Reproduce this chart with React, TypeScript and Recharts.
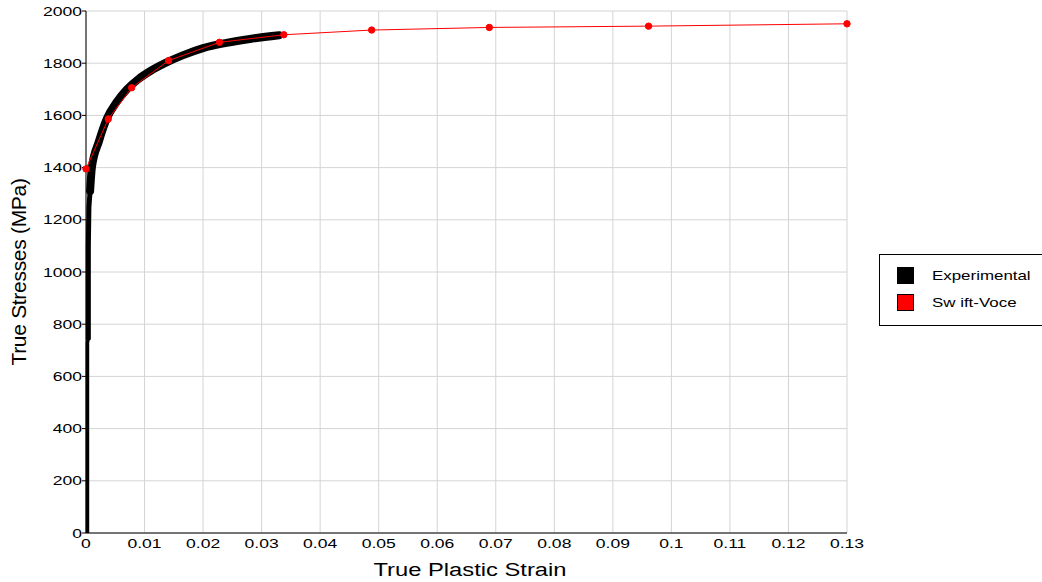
import React from "react";
import { LineChart, Line, XAxis, YAxis, CartesianGrid, Label } from "recharts";

// Experimental curve, split by the thickness of its band in the picture
const expLowStrain = [0.00025, 0.00025, 0.0004];
const expLowStress = [0, 730, 745];
const expMidStrain = [0.0004, 0.0004, 0.0005, 0.0007];
const expMidStress = [740, 1100, 1250, 1310];
const expHighStrain = [0.0007, 0.001, 0.0022, 0.0036, 0.0052, 0.007, 0.009, 0.011, 0.0135, 0.0165, 0.02, 0.024, 0.028, 0.033];
const expHighStress = [1310, 1400, 1500, 1590, 1650, 1700, 1740, 1770, 1800, 1830, 1858, 1878, 1893, 1907];

// Swift-Voce fit
const svStrain = [0, 0.0038, 0.0078, 0.0141, 0.0228, 0.0338, 0.0488, 0.0689, 0.0961, 0.13];
const svStress = [1395, 1586, 1706, 1810, 1880, 1909, 1927, 1937, 1942, 1951];

const xTicks = [0, 0.01, 0.02, 0.03, 0.04, 0.05, 0.06, 0.07, 0.08, 0.09, 0.1, 0.11, 0.12, 0.13];
const yTicks = [0, 200, 400, 600, 800, 1000, 1200, 1400, 1600, 1800, 2000];

const toData = (xs: number[], ys: number[], key: string) => xs.map((x, i) => ({ x, [key]: ys[i] }));
const lowData = toData(expLowStrain, expLowStress, "e1");
const midData = toData(expMidStrain, expMidStress, "e2");
const highData = toData(expHighStrain, expHighStress, "e3");
const svData = toData(svStrain, svStress, "sv");

const font = "'Liberation Sans', Arial, sans-serif";
const SX = 1.35;

const XTick = (p: any) => (
  <text
    transform={`translate(${p.x},${p.y + 10}) scale(${SX},1)`}
    textAnchor="middle"
    dominantBaseline="central"
    fontSize={13}
    fontFamily={font}
    fill="#000"
  >
    {String(Math.round(p.payload.value * 100) / 100)}
  </text>
);

const YTick = (p: any) => (
  <text
    transform={`translate(${p.x},${p.y}) scale(${SX},1)`}
    textAnchor="end"
    dominantBaseline="central"
    fontSize={13}
    fontFamily={font}
    fill="#000"
  >
    {p.payload.value}
  </text>
);

export default function App() {
  return (
    <div style={{ position: "absolute", left: 0, top: 0, width: 1042, height: 582, background: "#fff", fontFamily: font }}>
      <LineChart width={1042} height={582} margin={{ top: 11, right: 195, left: 0, bottom: 0 }}>
        <CartesianGrid stroke="#d4d4d4" strokeWidth={1} vertical horizontal />
        <XAxis
          type="number"
          dataKey="x"
          domain={[0, 0.13]}
          ticks={xTicks}
          allowDuplicatedCategory={false}
          height={49}
          stroke="#000"
          tickLine={false}
          tickSize={0}
          tickMargin={0}
          tick={<XTick />}
        >
          <Label
            content={() => (
              <text transform={`translate(470,576) scale(1.32,1)`} textAnchor="middle" fontSize={18} fontFamily={font} fill="#000">
                True Plastic Strain
              </text>
            )}
          />
        </XAxis>
        <YAxis
          type="number"
          domain={[0, 2000]}
          ticks={yTicks}
          width={86}
          stroke="#000"
          tickSize={4}
          tickMargin={0}
          tick={<YTick />}
        >
          <Label
            content={() => (
              <text transform="translate(18,272) rotate(-90)" textAnchor="middle" dominantBaseline="central" fontSize={21} fontFamily={font} fill="#000" letterSpacing={-0.3}>
                True Stresses (MPa)
              </text>
            )}
          />
        </YAxis>
        <Line data={lowData} dataKey="e1" type="linear" stroke="#000" strokeWidth={3.5} dot={false} isAnimationActive={false} />
        <Line data={midData} dataKey="e2" type="linear" stroke="#000" strokeWidth={5} dot={false} isAnimationActive={false} />
        <Line data={highData} dataKey="e3" type="monotone" stroke="#000" strokeWidth={8} strokeLinecap="round" dot={false} isAnimationActive={false} />
        <Line data={svData} dataKey="sv" type="linear" stroke="#ff0000" strokeWidth={1} dot={{ r: 3.2, fill: "#ff0000", stroke: "#ff0000", strokeWidth: 1 }} isAnimationActive={false} />
      </LineChart>
      <div style={{ position: "absolute", left: 879, top: 254, width: 163, height: 72, border: "1px solid #000", borderRight: "none", boxSizing: "border-box", background: "#fff" }}>
        <div style={{ position: "absolute", left: 17, top: 12, width: 17, height: 17, background: "#000" }} />
        <div style={{ position: "absolute", left: 52, top: 12, fontSize: 13, lineHeight: "17px", color: "#000", transform: "scaleX(1.3)", transformOrigin: "0 50%", whiteSpace: "nowrap" }}>Experimental</div>
        <div style={{ position: "absolute", left: 17, top: 39, width: 17, height: 17, background: "#ff0000", border: "1px solid #000", boxSizing: "border-box" }} />
        <div style={{ position: "absolute", left: 52, top: 39, fontSize: 13, lineHeight: "17px", color: "#000", transform: "scaleX(1.3)", transformOrigin: "0 50%", whiteSpace: "nowrap" }}>Sw ift-Voce</div>
      </div>
    </div>
  );
}
